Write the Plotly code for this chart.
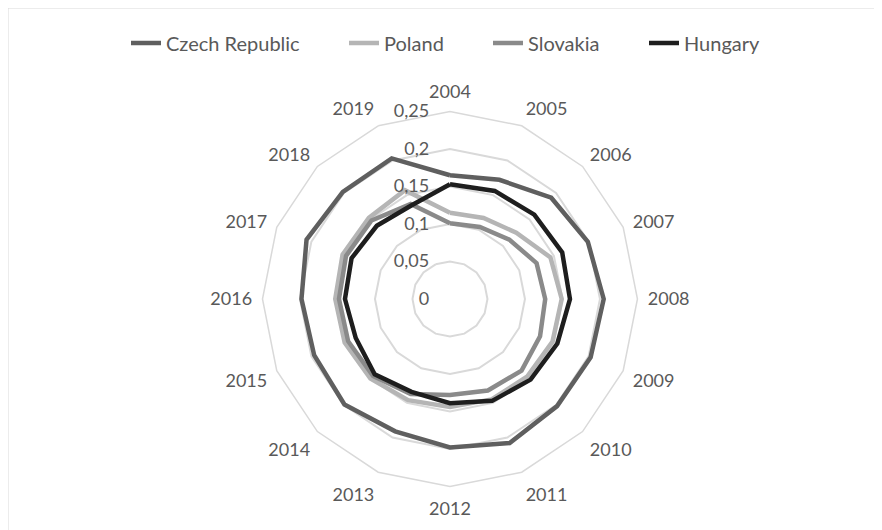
import plotly.graph_objects as go

years = [str(y) for y in range(2004, 2020)]

czech = [0.165, 0.172, 0.191, 0.199, 0.205, 0.203, 0.202, 0.208,
         0.198, 0.191, 0.199, 0.196, 0.198, 0.207, 0.202, 0.203]
poland = [0.115, 0.117, 0.125, 0.145, 0.149, 0.148, 0.146, 0.145,
          0.144, 0.146, 0.150, 0.152, 0.153, 0.155, 0.153, 0.157]
slovakia = [0.101, 0.104, 0.112, 0.125, 0.127, 0.130, 0.135, 0.132,
            0.128, 0.137, 0.145, 0.147, 0.148, 0.150, 0.148, 0.137]
hungary = [0.153, 0.156, 0.159, 0.162, 0.160, 0.155, 0.152, 0.147,
           0.139, 0.134, 0.142, 0.136, 0.140, 0.142, 0.138, 0.135]

series = [
    ('Czech Republic', czech, '#5f5f5f'),
    ('Poland', poland, '#b5b5b5'),
    ('Slovakia', slovakia, '#8a8a8a'),
    ('Hungary', hungary, '#1e1e1e'),
]

FONT = 'Lato'
TEXT = '#595959'
GRID = '#d9d9d9'

# one legend per series so the items can be spread like the Excel legend
legend_ids = ['legend', 'legend2', 'legend3', 'legend4']
legend_x = [118, 336, 480, 636]

fig = go.Figure()

for (name, vals, color), lid in zip(series, legend_ids):
    fig.add_trace(
        go.Scatterpolar(
            r=vals + vals[:1],
            theta=years + years[:1],
            mode='lines',
            name=name,
            legend=lid,
            line=dict(color=color, width=4.5),
        )
    )

legends = {}
for lid, lx in zip(legend_ids, legend_x):
    legends[lid] = dict(
        orientation='h',
        x=lx / 882,
        xanchor='left',
        y=0.934,
        yanchor='middle',
        font=dict(family=FONT, size=20, color=TEXT),
        bgcolor='rgba(0,0,0,0)',
    )

fig.update_layout(
    width=882,
    height=530,
    paper_bgcolor='white',
    plot_bgcolor='white',
    separators=', ',
    font=dict(family=FONT, size=18, color=TEXT),
    margin=dict(l=0, r=0, t=0, b=0),
    showlegend=True,
    polar=dict(
        domain=dict(x=[0.2885, 0.7137], y=[0.0972, 0.8047]),
        bgcolor='white',
        gridshape='linear',
        radialaxis=dict(
            range=[0, 0.25],
            dtick=0.05,
            angle=90,
            tickangle=90,
            side='counterclockwise',
            showline=False,
            ticks='outside',
            ticklen=14,
            tickcolor='rgba(0,0,0,0)',
            gridcolor=GRID,
            gridwidth=1.5,
            tickfont=dict(family=FONT, size=18, color=TEXT),
        ),
        angularaxis=dict(
            direction='clockwise',
            rotation=90,
            showgrid=False,
            showline=True,
            linecolor=GRID,
            linewidth=1.5,
            ticks='outside',
            ticklen=6,
            tickcolor='rgba(0,0,0,0)',
            tickfont=dict(family=FONT, size=18, color=TEXT),
        ),
    ),
    shapes=[
        dict(
            type='rect', xref='paper', yref='paper',
            x0=0, x1=872 / 882, y0=-0.05, y1=1,
            line=dict(color=GRID, width=1),
        )
    ],
    **legends,
)

fig.write_html("out.html")
